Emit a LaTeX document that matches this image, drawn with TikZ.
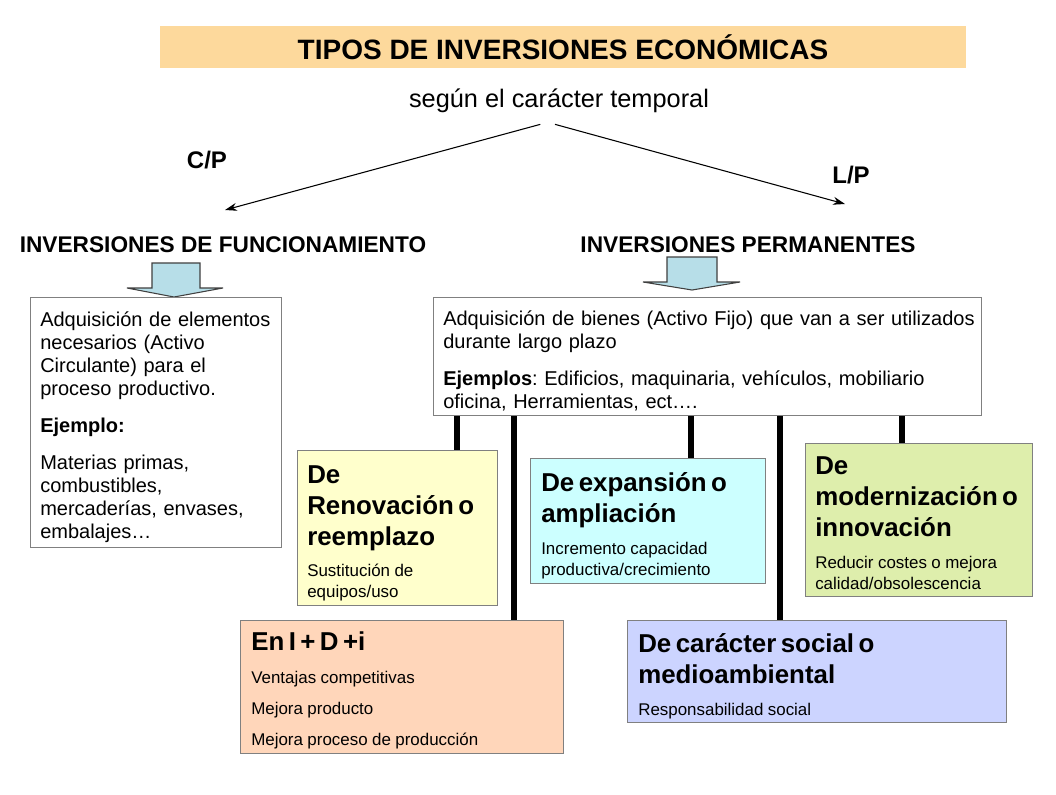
\documentclass[tikz,border=0pt]{standalone}
\usepackage{fontspec}
\setmainfont{Liberation Sans}
\usepackage{xcolor}
\usetikzlibrary{arrows.meta, positioning}
\definecolor{naranjaclaro}{RGB}{253, 217, 156}
\definecolor{amarilloclaro}{RGB}{255, 255, 204}
\definecolor{cianclaro}{RGB}{204, 255, 255}
\definecolor{verdeclaro}{RGB}{222, 238, 172}
\definecolor{salmonclaro}{RGB}{255, 214, 186}
\definecolor{azulclaro}{RGB}{204, 212, 255}
\definecolor{celeste}{RGB}{183, 222, 232}
\definecolor{borde}{RGB}{128, 128, 128}
\newcommand{\tituloficha}{\fontsize{19.4}{23.25}\selectfont\bfseries}
\newcommand{\notaficha}{\fontsize{12.7}{15.5}\selectfont}
\frenchspacing

\begin{document}
\begin{tikzpicture}[x=0.75pt, y=-0.75pt,
    panel/.style={rectangle, draw=borde, line width=0.8pt, anchor=north west, inner sep=0pt},
    txt/.style={anchor=north west, align=left, inner sep=0pt},
    cuerpo/.style={font=\fontsize{15}{17.25}\selectfont},
    rotulo/.style={font=\fontsize{17}{20}\selectfont\bfseries},
    arrow/.style={-{Stealth[length=9pt, width=6pt]}, line width=0.8pt},
    bar/.style={line width=4.5pt},
    bigarrow/.style={draw=black!75, line width=0.8pt, fill=celeste}
]
\useasboundingbox (0,0) rectangle (1056,794);
\fill[white] (0,0) rectangle (1056,794);

% cabecera
\node (titulo) [fill=naranjaclaro, minimum width=604.5pt, minimum height=31.5pt,
    font=\fontsize{21}{25}\selectfont\bfseries] at (563,47) {TIPOS DE INVERSIONES ECONÓMICAS};
\node (segun) [font=\fontsize{19}{23}\selectfont] at (559,101) {según el carácter temporal};
\node (cp) [font=\fontsize{18}{22}\selectfont\bfseries] at (207,160) {C/P};
\node (lp) [font=\fontsize{18}{22}\selectfont\bfseries] at (851,175) {L/P};
\coordinate (finfunc) at (225,210);
\coordinate (finperm) at (845,204);
\draw [arrow] ([xshift=-14pt, yshift=-5pt]segun.south) -- (finfunc);
\draw [arrow] ([xshift=-3pt, yshift=-5pt]segun.south) -- (finperm);

\node (func) [rotulo] at (223,245) {INVERSIONES DE FUNCIONAMIENTO};
\node (perm) [rotulo] at (748,245) {INVERSIONES PERMANENTES};

% flechas gruesas
\draw [bigarrow] (152,263) -- (200,263) -- (200,288) -- (223,288) -- (174,297)
    -- (127,288) -- (152,288) -- cycle;
\draw [bigarrow] (667,257) -- (717,257) -- (717,282) -- (740,282) -- (692,290)
    -- (643,282) -- (667,282) -- cycle;

% cajas de descripcion
\node (fbox) [panel, fill=white, minimum width=188.25pt, minimum height=187.5pt] at (30,297) {};
\node (ftexto) [txt, cuerpo, text width=180pt] at (40,311) {Adquisición de elementos\\
    necesarios (Activo\\ Circulante) para el\\ proceso productivo.\\[10.5pt]
    \textbf{Ejemplo:}\\[11pt]
    Materias primas,\\ combustibles,\\ mercaderías, envases,\\ embalajes…};

\node (pbox) [panel, fill=white, minimum width=411pt, minimum height=88.5pt] at (433,297) {};
\node (ptexto) [txt, cuerpo, text width=420pt] at (443,310) {Adquisición de bienes (Activo Fijo) que van a ser utilizados\\
    durante largo plazo\\[10.5pt]
    \textbf{Ejemplos}: Edificios, maquinaria, vehículos, mobiliario\\ oficina, Herramientas, ect….};

% tipos de inversion permanente
\node (reno) [panel, fill=amarilloclaro, minimum width=150pt, minimum height=116.25pt] at (297,450) {};
\node (renotexto) [txt, text width=145pt] at (307,465) {{\tituloficha De\\ Renovación o\\ reemplazo\par}
    \vspace{8.25pt}{\notaficha Sustitución de\\ equipos/uso\par}};

\node (expa) [panel, fill=cianclaro, minimum width=176.25pt, minimum height=93.75pt] at (530,458) {};
\node (expatexto) [txt, text width=170pt] at (541,472) {{\tituloficha De expansión o\\ ampliación\par}
    \vspace{9pt}{\notaficha Incremento capacidad\\ productiva/crecimiento\par}};

\node (mode) [panel, fill=verdeclaro, minimum width=170.25pt, minimum height=114.75pt] at (805,443) {};
\node (modetexto) [txt, text width=165pt] at (815,456) {{\tituloficha De\\ modernización o\\ innovación\par}
    \vspace{9pt}{\notaficha Reducir costes o mejora\\ calidad/obsolescencia\par}};

\node (idi) [panel, fill=salmonclaro, minimum width=242.25pt, minimum height=99.75pt] at (240,620) {};
\node (iditexto) [txt, text width=235pt] at (251,631) {{\tituloficha En I + D +i\par}
    \vspace{9.75pt}{\notaficha Ventajas competitivas\par\vspace{7.75pt}
    Mejora producto\par\vspace{7.75pt}Mejora proceso de producción\par}};

\node (soci) [panel, fill=azulclaro, minimum width=284.25pt, minimum height=76.5pt] at (627,620) {};
\node (socitexto) [txt, text width=275pt] at (638,633) {{\tituloficha De carácter social o\\ medioambiental\par}
    \vspace{9pt}{\notaficha Responsabilidad social\par}};

% uniones
\coordinate (r1) at (457,0);
\coordinate (r2) at (514,0);
\coordinate (r3) at (691,0);
\coordinate (r4) at (780,0);
\coordinate (r5) at (902,0);
\draw [bar] (pbox.south -| r1) -- (reno.north -| r1);
\draw [bar] (pbox.south -| r2) -- (idi.north -| r2);
\draw [bar] (pbox.south -| r3) -- (expa.north -| r3);
\draw [bar] (pbox.south -| r4) -- (soci.north -| r4);
\draw [bar] (pbox.south -| r5) -- (mode.north -| r5);
\end{tikzpicture}
\end{document}
